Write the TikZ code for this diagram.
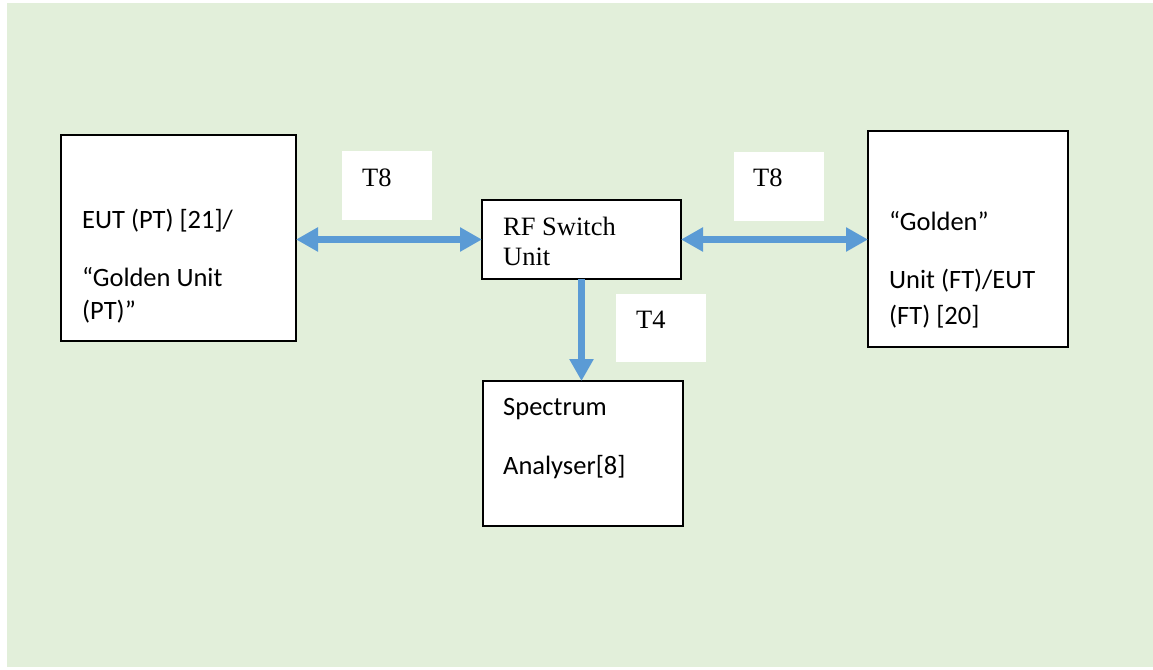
\documentclass[tikz,border=0pt]{standalone}
\usepackage{fontspec}
\setmainfont{Liberation Serif}
\newfontfamily\calfont{Carlito}
\usetikzlibrary{arrows.meta}
\definecolor{bgc}{HTML}{E2EFDA}
\definecolor{arrowblue}{HTML}{5B9BD5}
\begin{document}
\begin{tikzpicture}[x=1pt,y=-1pt,
  box/.style={draw=black,line width=1.2pt,fill=white,anchor=north west,inner sep=0pt,outer sep=0pt},
  lbl/.style={fill=white,anchor=north west,inner sep=0pt,outer sep=0pt},
  sanstxt/.style={anchor=base west,inner sep=0pt,font=\calfont\fontsize{26.5}{30}\selectfont},
  seriftxt/.style={anchor=base west,inner sep=0pt,font=\fontsize{26.5}{30}\selectfont},
  link/.style={arrowblue,line width=7pt,arrows={Triangle[width=23pt,length=22pt]-Triangle[width=23pt,length=22pt]}},
  linkone/.style={arrowblue,line width=7pt,arrows={-Triangle[width=23pt,length=22pt]}}]
\useasboundingbox (0,0) rectangle (1153,669);
\fill[bgc] (7,3) rectangle (1153,667);
% boxes
\node[box,minimum width=235pt,minimum height=206pt] (eut) at (61,135) {};
\node[box,minimum width=199pt,minimum height=79pt] (rf) at (482,200) {};
\node[box,minimum width=200pt,minimum height=216pt] (gold) at (868,131) {};
\node[box,minimum width=200pt,minimum height=145pt] (spec) at (483,381) {};
% label backgrounds
\node[lbl,minimum width=90pt,minimum height=69pt] (t8a) at (342,151) {};
\node[lbl,minimum width=90pt,minimum height=69pt] (t8b) at (734,152) {};
\node[lbl,minimum width=90pt,minimum height=68pt] (t4) at (616,294) {};
% texts
\node[sanstxt] (eut1) at (82,228) {EUT (PT) [21]/};
\node[sanstxt] (eut2) at (82,286.5) {“Golden Unit};
\node[sanstxt] (eut3) at (82,319) {(PT)”};
\node[sanstxt] (gold1) at (889,230) {“Golden”};
\node[sanstxt] (gold2) at (889,288.5) {Unit (FT)/EUT};
\node[sanstxt] (gold3) at (889,324) {(FT) [20]};
\node[sanstxt] (spec1) at (503,415.5) {Spectrum};
\node[sanstxt] (spec2) at (503,474) {Analyser[8]};
\node[seriftxt] (rf1) at (503,235) {RF Switch};
\node[seriftxt] (rf2) at (503,265) {Unit};
\node[seriftxt] (t8atxt) at (362,186) {T8};
\node[seriftxt] (t8btxt) at (753,186.5) {T8};
\node[seriftxt] (t4txt) at (636,328) {T4};
% connectors
\draw[link] (eut.east |- rf.west) -- (rf.west);
\draw[link] (rf.east) -- (rf.east -| gold.west);
\draw[linkone] (rf.south) -- (rf.south |- spec.north);
\end{tikzpicture}
\end{document}
